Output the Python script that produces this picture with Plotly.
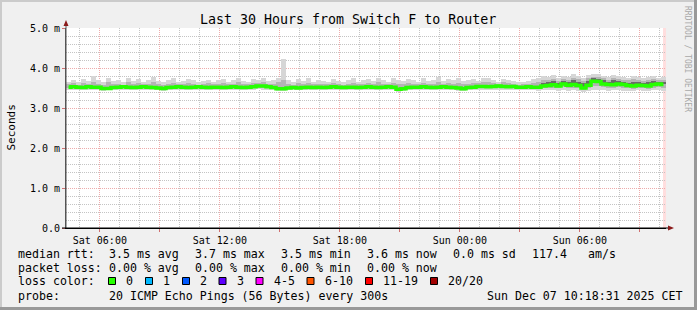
import plotly.graph_objects as go
import pandas as pd

# ---------------- data ----------------
start_time = "2025-12-06 04:18:31"
end_time = "2025-12-07 10:18:31"
n_slots = 120  # 15-minute slots over 30 hours

median_rtt = [
    3.52, 3.53, 3.52, 3.51, 3.53, 3.52, 3.52, 3.49, 3.49, 3.51,
    3.52, 3.53, 3.52, 3.51, 3.52, 3.53, 3.52, 3.51, 3.50, 3.49,
    3.51, 3.52, 3.53, 3.52, 3.51, 3.52, 3.53, 3.52, 3.51, 3.52,
    3.52, 3.51, 3.52, 3.53, 3.52, 3.51, 3.52, 3.53, 3.55, 3.55,
    3.53, 3.51, 3.48, 3.48, 3.50, 3.51, 3.50, 3.51, 3.52, 3.51,
    3.52, 3.51, 3.52, 3.53, 3.52, 3.51, 3.52, 3.52, 3.51, 3.52,
    3.53, 3.52, 3.51, 3.52, 3.53, 3.52, 3.47, 3.48, 3.51, 3.52,
    3.52, 3.53, 3.52, 3.51, 3.52, 3.53, 3.52, 3.51, 3.50, 3.48,
    3.51, 3.52, 3.54, 3.54, 3.53, 3.54, 3.55, 3.54, 3.53, 3.54,
    3.52, 3.52, 3.53, 3.52, 3.52, 3.55, 3.56, 3.58, 3.55, 3.60,
    3.57, 3.59, 3.56, 3.50, 3.57, 3.67, 3.66, 3.60, 3.59, 3.58,
    3.60, 3.59, 3.56, 3.55, 3.57, 3.56, 3.55, 3.59, 3.60, 3.59,
]

smoke_min = [
    3.46, 3.45, 3.46, 3.44, 3.46, 3.45, 3.46, 3.43, 3.44, 3.46,
    3.45, 3.46, 3.45, 3.44, 3.46, 3.45, 3.46, 3.45, 3.44, 3.43,
    3.45, 3.46, 3.45, 3.46, 3.44, 3.45, 3.46, 3.45, 3.44, 3.46,
    3.45, 3.44, 3.46, 3.45, 3.46, 3.44, 3.45, 3.46, 3.47, 3.46,
    3.45, 3.44, 3.42, 3.43, 3.44, 3.45, 3.44, 3.45, 3.46, 3.45,
    3.46, 3.45, 3.44, 3.46, 3.45, 3.44, 3.46, 3.45, 3.44, 3.46,
    3.45, 3.46, 3.44, 3.45, 3.46, 3.45, 3.41, 3.42, 3.44, 3.45,
    3.46, 3.45, 3.44, 3.46, 3.45, 3.46, 3.45, 3.44, 3.43, 3.42,
    3.44, 3.45, 3.46, 3.45, 3.46, 3.45, 3.46, 3.45, 3.44, 3.46,
    3.45, 3.44, 3.45, 3.44, 3.43, 3.44, 3.45, 3.44, 3.43, 3.45,
    3.43, 3.44, 3.42, 3.41, 3.43, 3.46, 3.45, 3.44, 3.43, 3.44,
    3.45, 3.43, 3.42, 3.43, 3.44, 3.42, 3.43, 3.45, 3.44, 3.43,
]

smoke_max = [
    3.66, 3.70, 3.64, 3.72, 3.68, 3.80, 3.70, 3.66, 3.74, 3.68,
    3.70, 3.65, 3.76, 3.68, 3.72, 3.66, 3.70, 3.78, 3.68, 3.64,
    3.70, 3.74, 3.66, 3.68, 3.72, 3.70, 3.65, 3.68, 3.71, 3.66,
    3.69, 3.73, 3.66, 3.70, 3.75, 3.68, 3.66, 3.72, 3.70, 3.74,
    3.68, 3.70, 3.76, 4.22, 3.70, 3.66, 3.72, 3.68, 3.74, 3.66,
    3.70, 3.68, 3.66, 3.72, 3.68, 3.65, 3.70, 3.74, 3.66, 3.69,
    3.72, 3.68, 3.76, 3.70, 3.66, 3.74, 3.70, 3.68, 3.72, 3.70,
    3.66, 3.74, 3.68, 3.70, 3.78, 3.68, 3.72, 3.70, 3.75, 3.68,
    3.70, 3.72, 3.68, 3.74, 3.76, 3.70, 3.66, 3.72, 3.70, 3.68,
    3.64, 3.66, 3.68, 3.72, 3.76, 3.80, 3.78, 3.82, 3.76, 3.80,
    3.78, 3.84, 3.80, 3.76, 3.82, 3.86, 3.84, 3.80, 3.78, 3.82,
    3.80, 3.78, 3.76, 3.80, 3.78, 3.74, 3.78, 3.80, 3.76, 3.78,
]

smoke_mid_lo = [
    3.49, 3.50, 3.49, 3.48, 3.50, 3.49, 3.49, 3.46, 3.46, 3.48,
    3.49, 3.50, 3.49, 3.48, 3.49, 3.50, 3.49, 3.48, 3.47, 3.46,
    3.48, 3.49, 3.50, 3.49, 3.48, 3.49, 3.50, 3.49, 3.48, 3.49,
    3.49, 3.48, 3.49, 3.50, 3.49, 3.48, 3.49, 3.50, 3.51, 3.51,
    3.50, 3.48, 3.45, 3.45, 3.47, 3.48, 3.47, 3.48, 3.49, 3.48,
    3.49, 3.48, 3.49, 3.50, 3.49, 3.48, 3.49, 3.49, 3.48, 3.49,
    3.50, 3.49, 3.48, 3.49, 3.50, 3.49, 3.44, 3.45, 3.48, 3.49,
    3.49, 3.50, 3.49, 3.48, 3.49, 3.50, 3.49, 3.48, 3.47, 3.45,
    3.48, 3.49, 3.50, 3.50, 3.49, 3.50, 3.51, 3.50, 3.49, 3.50,
    3.49, 3.49, 3.50, 3.49, 3.48, 3.50, 3.50, 3.51, 3.49, 3.52,
    3.50, 3.51, 3.49, 3.46, 3.50, 3.56, 3.55, 3.52, 3.51, 3.50,
    3.52, 3.51, 3.49, 3.48, 3.50, 3.49, 3.48, 3.51, 3.52, 3.51,
]

smoke_mid_hi = [
    3.60, 3.62, 3.58, 3.63, 3.60, 3.66, 3.61, 3.58, 3.64, 3.60,
    3.61, 3.58, 3.64, 3.60, 3.62, 3.59, 3.61, 3.65, 3.59, 3.57,
    3.61, 3.63, 3.59, 3.60, 3.62, 3.61, 3.58, 3.60, 3.62, 3.59,
    3.60, 3.63, 3.59, 3.61, 3.64, 3.60, 3.59, 3.62, 3.63, 3.64,
    3.60, 3.61, 3.64, 3.70, 3.61, 3.58, 3.62, 3.60, 3.63, 3.59,
    3.61, 3.60, 3.59, 3.62, 3.60, 3.58, 3.61, 3.63, 3.59, 3.60,
    3.62, 3.60, 3.64, 3.61, 3.59, 3.63, 3.60, 3.59, 3.62, 3.61,
    3.59, 3.63, 3.60, 3.61, 3.65, 3.60, 3.62, 3.61, 3.63, 3.59,
    3.61, 3.62, 3.62, 3.64, 3.65, 3.63, 3.61, 3.64, 3.62, 3.61,
    3.58, 3.60, 3.61, 3.63, 3.66, 3.70, 3.69, 3.72, 3.68, 3.72,
    3.70, 3.75, 3.72, 3.68, 3.74, 3.78, 3.77, 3.74, 3.71, 3.74,
    3.73, 3.71, 3.69, 3.72, 3.70, 3.68, 3.70, 3.73, 3.70, 3.71,
]

smoke_dark_lo = [None] * 95 + [
    3.56, 3.57, 3.59, 3.56, 3.61,
    3.58, 3.60, 3.57, 3.52, 3.58, 3.67, 3.66, 3.61, 3.60, 3.59,
    3.61, 3.60, 3.57, 3.56, 3.58, 3.57, 3.56, 3.60, 3.61, 3.60,
]
smoke_dark_hi = [None] * 95 + [
    3.63, 3.64, 3.68, 3.63, 3.68,
    3.66, 3.70, 3.66, 3.62, 3.68, 3.74, 3.73, 3.69, 3.66, 3.69,
    3.68, 3.66, 3.63, 3.66, 3.65, 3.62, 3.64, 3.67, 3.65, 3.66,
]

x_tick_times = [
    "2025-12-06 06:00", "2025-12-06 09:00", "2025-12-06 12:00", "2025-12-06 15:00",
    "2025-12-06 18:00", "2025-12-06 21:00", "2025-12-07 00:00", "2025-12-07 03:00",
    "2025-12-07 06:00", "2025-12-07 09:00",
]
x_tick_labels = ["Sat 06:00", "", "Sat 12:00", "", "Sat 18:00", "", "Sun 00:00", "", "Sun 06:00", ""]
y_tick_values = [0, 1, 2, 3, 4, 5]
y_tick_labels = ["0.0", "1.0 m", "2.0 m", "3.0 m", "4.0 m", "5.0 m"]

loss_labels = ["0", "1", "2", "3", "4-5", "6-10", "11-19", "20/20"]
loss_colors = ["#26ff00", "#00b8ff", "#0059ff", "#5e00ff", "#ff00ff", "#ff5500", "#ff0000", "#a10000"]

title_text = "Last 30 Hours from Switch F to Router"
legend_rtt = ["median rtt:", "3.5 ms avg", "3.7 ms max", "3.5 ms min", "3.6 ms now", "0.0 ms sd", "117.4", "am/s"]
legend_loss = ["packet loss:", "0.00 % avg", "0.00 % max", "0.00 % min", "0.00 % now"]
probe_text = ["probe:", "20 ICMP Echo Pings (56 Bytes) every 300s", "Sun Dec 07 10:18:31 2025 CET"]

# ---------------- geometry helpers ----------------
W, H = 697, 310
PL, PR, PT, PB = 66, 666, 28, 228
MONO = "DejaVu Sans Mono"


def fx(p):
    return (p - PL) / (PR - PL)


def fy(p):
    return (PB - p) / (PB - PT)


slot_ms = 15 * 60 * 1000
times = pd.date_range(pd.Timestamp(start_time), periods=n_slots, freq="15min") + pd.Timedelta(minutes=7.5)

fig = go.Figure()


def band(lo, hi, color):
    xs, base, height = [], [], []
    for t, a, b in zip(times, lo, hi):
        if a is None or b is None:
            continue
        xs.append(t)
        base.append(a)
        height.append(b - a)
    fig.add_trace(go.Bar(x=xs, y=height, base=base, width=slot_ms,
                         marker=dict(color=color, line=dict(width=0)), hoverinfo="skip"))


band(smoke_min, smoke_max, "#d6d6d6")
band(smoke_mid_lo, smoke_mid_hi, "#b4b4b4")
band(smoke_dark_lo, smoke_dark_hi, "#6a6a6a")

fig.add_trace(go.Scatter(x=times, y=median_rtt, mode="lines", line=dict(color="#26ff00", width=3.5, shape="hvh"),
                         hoverinfo="skip"))

red_grid = "#eeacac"
gray_grid = "#c4c4c4"

fig.update_layout(
    width=W, height=H,
    margin=dict(l=PL, r=W - PR, t=PT, b=H - PB),
    paper_bgcolor="#f0f0f0", plot_bgcolor="#ffffff",
    showlegend=False, barmode="overlay", bargap=0,
    font=dict(family=MONO, size=10, color="#000000"),
)
fig.update_xaxes(
    type="date", range=[start_time, end_time],
    tickmode="array", tickvals=x_tick_times, ticktext=x_tick_labels,
    showgrid=True, gridcolor=red_grid, griddash="1px,1px", gridwidth=1,
    ticks="outside", ticklen=3, tickcolor="#d07070",
    minor=dict(dtick=3600000, tick0="2025-12-06 00:00", showgrid=True, gridcolor=gray_grid,
               griddash="1px,1px", gridwidth=1),
    showline=True, linecolor="#000000", linewidth=1, zeroline=False,
    tickfont=dict(family=MONO, size=10, color="#000000"),
)
fig.update_yaxes(
    range=[0, 5], tickmode="array", tickvals=y_tick_values, ticktext=y_tick_labels,
    showgrid=True, gridcolor=red_grid, griddash="1px,1px", gridwidth=1,
    ticks="outside", ticklen=3, tickcolor="#d07070",
    minor=dict(dtick=0.2, showgrid=True, gridcolor=gray_grid, griddash="1px,1px", gridwidth=1),
    showline=True, linecolor="#555555", linewidth=1, zeroline=False,
    tickfont=dict(family=MONO, size=10, color="#000000"),
)

shapes = []
# "now" strip
shapes.append(dict(type="rect", xref="x", yref="paper", x0="2025-12-07 10:09:31", x1=end_time, y0=0, y1=1,
                   fillcolor="#ffdede", line=dict(width=0), layer="below"))
# axis extensions and arrows
shapes.append(dict(type="line", xref="paper", yref="paper", x0=fx(66), x1=fx(66), y0=fy(228), y1=fy(24),
                   line=dict(color="#555555", width=1)))
shapes.append(dict(type="line", xref="paper", yref="paper", x0=fx(62), x1=fx(670), y0=fy(228), y1=fy(228),
                   line=dict(color="#000000", width=1)))
shapes.append(dict(type="path", xref="paper", yref="paper",
                   path=f"M {fx(63.5)} {fy(26)} L {fx(68.5)} {fy(26)} L {fx(66)} {fy(20)} Z",
                   fillcolor="#8b1a1a", line=dict(width=0)))
shapes.append(dict(type="path", xref="paper", yref="paper",
                   path=f"M {fx(668)} {fy(225.5)} L {fx(668)} {fy(230.5)} L {fx(674)} {fy(228)} Z",
                   fillcolor="#8b1a1a", line=dict(width=0)))
# frame shading
shapes.append(dict(type="rect", xref="paper", yref="paper", x0=fx(0), x1=fx(W), y0=fy(0), y1=fy(2),
                   fillcolor="#cbcbcb", line=dict(width=0)))
shapes.append(dict(type="rect", xref="paper", yref="paper", x0=fx(0), x1=fx(2), y0=fy(0), y1=fy(H),
                   fillcolor="#cbcbcb", line=dict(width=0)))
shapes.append(dict(type="rect", xref="paper", yref="paper", x0=fx(W - 3), x1=fx(W), y0=fy(0), y1=fy(H),
                   fillcolor="#999999", line=dict(width=0)))
shapes.append(dict(type="rect", xref="paper", yref="paper", x0=fx(0), x1=fx(W), y0=fy(H - 3), y1=fy(H),
                   fillcolor="#999999", line=dict(width=0)))

annotations = []


def text(x, y, s, size=11.6, anchor="left", color="#000000", angle=0):
    annotations.append(dict(xref="paper", yref="paper", x=fx(x), y=fy(y), text=s, showarrow=False,
                            xanchor=anchor, yanchor="middle", textangle=angle,
                            font=dict(family=MONO, size=size, color=color)))


text(348, 19, title_text, size=13.3, anchor="center")
text(10.5, 128, "Seconds", size=11, anchor="center", angle=-90)
text(688, 59, "RRDTOOL / TOBI OETIKER", size=8, anchor="center", color="#a8a8a8", angle=90)

rtt_x = [16, 107, 193, 279, 365, 451, 530, 586]
for x, s in zip(rtt_x, legend_rtt):
    text(x, 254, s)
loss_x = [16, 107, 193, 279, 365]
for x, s in zip(loss_x, legend_loss):
    text(x, 267.5, s)
text(16, 281, "loss color:")
box_x = [108.5, 145.5, 182.5, 219, 256, 307, 365.5, 430.5]
for x, lab, col in zip(box_x, loss_labels, loss_colors):
    shapes.append(dict(type="rect", xref="paper", yref="paper", x0=fx(x), x1=fx(x + 7),
                       y0=fy(277.5 + 7), y1=fy(277.5), fillcolor=col, line=dict(color="#000000", width=1)))
    text(x + 15.5, 281, lab)
probe_x = [16, 107, 485]
for x, s in zip(probe_x, probe_text):
    text(x, 295.5, s)

fig.update_layout(shapes=shapes, annotations=annotations)
fig.write_html("out.html")
